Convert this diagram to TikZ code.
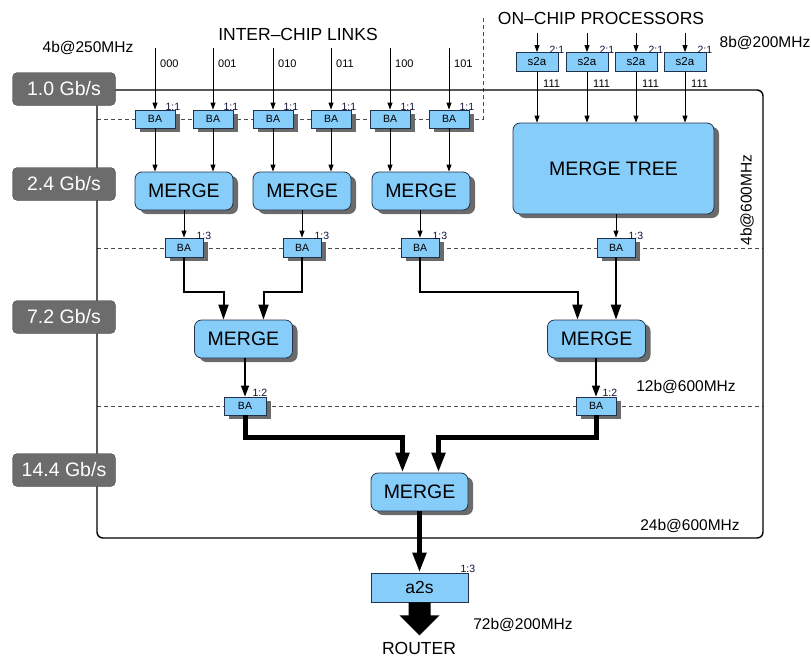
\documentclass[tikz,border=0pt]{standalone}
\usepackage{fontspec}
\setmainfont{Liberation Sans}
\usetikzlibrary{arrows.meta,shadows,calc}
\definecolor{boxblue}{RGB}{135,205,250}
\definecolor{boxedge}{RGB}{35,50,75}
\definecolor{rategray}{RGB}{108,108,108}
\definecolor{ratiocol}{RGB}{15,15,60}
\newcommand{\myfs}[1]{\fontsize{#1}{#1}\selectfont}
\begin{document}
\begin{tikzpicture}[x=1pt,y=-1pt,
  blk/.style={draw=boxedge,fill=boxblue,line width=0.8pt,inner sep=0pt},
  shad/.style={drop shadow={shadow xshift=5pt,shadow yshift=-4pt,fill=black!58,opacity=1}},
  babox/.style={blk,shad,minimum width=40pt,minimum height=18pt,font=\myfs{10.5}},
  sabox/.style={blk,minimum width=42pt,minimum height=19pt,font=\myfs{11.5}},
  mergebox/.style={blk,shad,rounded corners=7pt,minimum width=98pt,minimum height=38pt,font=\myfs{19.5}},
  ratebox/.style={draw=black!75,fill=rategray,rounded corners=5pt,text=white,minimum width=103pt,minimum height=33pt,inner sep=0pt,font=\myfs{19.5}},
  ratiolbl/.style={text=ratiocol,inner sep=0pt,font=\myfs{10.5}},
  bitcode/.style={inner sep=0pt,font=\myfs{11}},
  lbl/.style={inner sep=0pt,font=\myfs{15.5}},
  ttl/.style={inner sep=0pt,font=\myfs{17.5}},
  guide/.style={dash pattern=on 4pt off 3pt,line width=0.6pt,black!70},
  thinarr/.style={line width=0.8pt,-{Triangle[length=7pt,width=5pt]}},
  midarr/.style={line width=1.3pt,-{Triangle[length=11pt,width=8pt]}},
  medarr/.style={line width=2pt,-{Triangle[length=15pt,width=10pt]}},
  fatarr/.style={line width=5pt,-{Triangle[length=20pt,width=13pt]}},
]
\useasboundingbox (0,0) rectangle (811,657);

% guide lines
\draw[guide] (97,119) -- (483,119) -- (483,18);
\draw[guide] (97,248) -- (763,248);
\draw[guide] (97,406) -- (763,406);

% chip outline
\draw[line width=1.4pt,rounded corners=6pt] (97,90) rectangle (763,538);

% rate boxes
\node[ratebox] (g1) at (64,89) {1.0 Gb/s};
\node[ratebox] (g2) at (64,184) {2.4 Gb/s};
\node[ratebox] (g3) at (64,317) {7.2 Gb/s};
\node[ratebox] (g4) at (64,470) {14.4 Gb/s};

% titles and labels
\node[lbl] (t1) at (88,48) {4b@250MHz};
\node[ttl] (t2) at (298,34) {INTER–CHIP LINKS};
\node[ttl] (t3) at (601,18) {ON–CHIP PROCESSORS};
\node[lbl] (t4) at (765,43) {8b@200MHz};
\node[lbl,rotate=90] (t5) at (747,200) {4b@600MHz};
\node[lbl] (t6) at (686,387) {12b@600MHz};
\node[lbl] (t7) at (690,526) {24b@600MHz};
\node[lbl] (t8) at (523,625) {72b@200MHz};

% inter-chip links
\foreach \i/\x/\bits in {1/155/000,2/213/001,3/273/010,4/331/011,5/390/100,6/449/101} {
  \coordinate (in\i) at (\x,48);
  \node[babox] (a\i) at (\x,119) {BA};
  \node[ratiolbl,anchor=base east] (ra\i) at ($(a\i.north east)+(5,1)$) {1:1};
  \node[bitcode,anchor=base west] (cd\i) at (\x+5,67) {\bits};
  \draw[thinarr] (in\i) -- (a\i);
}

% merge tree
\node[mergebox,minimum width=201pt,minimum height=91pt] (mt) at (613.5,168.5) {MERGE TREE};

% on-chip processors
\foreach \i/\x in {1/537,2/587,3/636,4/685} {
  \coordinate (p\i) at (\x,33);
  \node[sabox] (s\i) at (\x,62) {s2a};
  \node[ratiolbl,anchor=base east] (rs\i) at ($(s\i.north east)+(6,1)$) {2:1};
  \node[bitcode,anchor=base west] (cs\i) at (\x+6,87) {111};
  \draw[thinarr] (p\i) -- (s\i);
  \draw[thinarr] (s\i) -- (s\i |- mt.north);
}

% first merge level
\node[mergebox] (m1) at (184,191) {MERGE};
\node[mergebox] (m2) at (302,191) {MERGE};
\node[mergebox] (m3) at (421,191) {MERGE};
\draw[thinarr] (a1) -- (a1 |- m1.north);
\draw[thinarr] (a2) -- (a2 |- m1.north);
\draw[thinarr] (a3) -- (a3 |- m2.north);
\draw[thinarr] (a4) -- (a4 |- m2.north);
\draw[thinarr] (a5) -- (a5 |- m3.north);
\draw[thinarr] (a6) -- (a6 |- m3.north);

% second BA row
\foreach \i/\x in {1/184,2/302,3/420,4/616} {
  \node[babox,minimum width=38pt,minimum height=19pt] (b\i) at (\x,247.5) {BA};
  \node[ratiolbl,anchor=base east] (rb\i) at ($(b\i.north east)+(8,2)$) {1:3};
}
\draw[thinarr] (b1 |- m1.south) -- (b1);
\draw[thinarr] (b2 |- m2.south) -- (b2);
\draw[thinarr] (b3 |- m3.south) -- (b3);
\draw[thinarr] (b4 |- mt.south) -- (b4);

% second merge level
\node[mergebox] (m4) at (243.5,339) {MERGE};
\node[mergebox] (m5) at (596.5,339) {MERGE};
\draw[medarr] (b1.south) -- ++(0,35) -| ([xshift=-20pt]m4.north);
\draw[medarr] (b2.south) -- ++(0,35) -| ([xshift=20pt]m4.north);
\draw[medarr] (b3.south) -- ++(0,35) -| ([xshift=-19pt]m5.north);
\draw[medarr] (b4) -- (b4 |- m5.north);

% third BA row
\node[babox,minimum width=42pt] (c1) at (245,406) {BA};
\node[ratiolbl,anchor=base east] (rc1) at ($(c1.north east)+(1,0)$) {1:2};
\node[babox,minimum width=40pt] (c2) at (596,406) {BA};
\node[ratiolbl,anchor=base east] (rc2) at ($(c2.north east)+(1,0)$) {1:2};
\draw[midarr] (c1 |- m4.south) -- (c1);
\draw[midarr] (c2 |- m5.south) -- (c2);

% final merge
\node[mergebox,minimum width=97pt] (m6) at (419.5,492) {MERGE};
\draw[fatarr] (c1.south) -- ++(0,22) -| ([xshift=-17pt]m6.north);
\draw[fatarr] (c2.south) -- ++(0,22) -| ([xshift=19pt]m6.north);

% a2s and router
\node[blk,minimum width=97pt,minimum height=29pt,font=\myfs{17.5}] (a2s) at (419.5,587.5) {a2s};
\node[ratiolbl,anchor=base east] (ra2s) at ($(a2s.north east)+(7,0)$) {1:3};
\draw[fatarr] (m6) -- (a2s);
\node[ttl] (router) at (419,648) {ROUTER};
\fill ($(a2s.south)+(-11,0)$) -- ($(a2s.south)+(-11,13)$) -- ($(a2s.south)+(-20,13)$)
  -- ($(a2s.south)+(0,33)$) -- ($(a2s.south)+(20,13)$) -- ($(a2s.south)+(11,13)$)
  -- ($(a2s.south)+(11,0)$) -- cycle;
\end{tikzpicture}
\end{document}
